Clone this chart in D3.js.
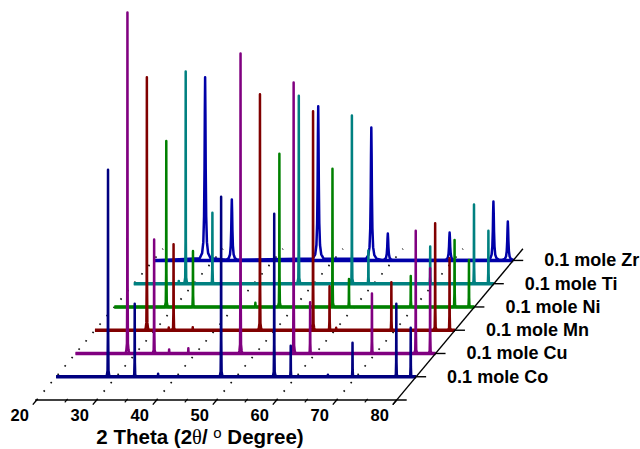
<!DOCTYPE html>
<html><head><meta charset="utf-8">
<script src="https://cdn.jsdelivr.net/npm/d3@7"></script>
<style>body{margin:0;background:#fff}</style>
</head><body>
<svg id="c" width="640" height="449"></svg>
<script>
// ---- data ----
const seriesNames = ["0.1 mole Co","0.1 mole Cu","0.1 mole Mn","0.1 mole Ni","0.1 mole Ti","0.1 mole Zr"];
const xTicks = [20,30,40,50,60,70,80];
const xMinorTicks = [25,35,45,55,65,75];
const coPos = [28.65, 33.1, 37.0, 47.5, 56.35, 59.1, 65.3, 69.4, 76.7, 79.1];
const coInt = [60.7, 21.4, 0.9, 52.8, 47.8, 9.1, 0.6, 10.0, 21.4, 14.4];
const cuPos = [28.65, 33.1, 35.6, 38.8, 47.5, 56.35, 59.1, 69.4, 76.7, 79.1];
const cuInt = [100, 33.4, 1.2, 1.5, 88, 79.5, 15.0, 17.6, 36.0, 25.0];
const mnPos = [28.65, 32.3, 33.1, 36.3, 47.5, 56.35, 59.1, 60.2, 69.4, 76.7, 79.1];
const mnInt = [74.2, 0.8, 25.2, 0.9, 69.2, 64.2, 12.9, 0.7, 14.1, 31.4, 21.1];
const niPos = [28.65, 33.1, 43.5, 47.5, 56.35, 59.1, 69.4, 76.7, 79.1];
const niInt = [48.7, 16.4, 1.2, 44.9, 40.5, 8.2, 9.1, 19.6, 13.8];
const tiPos = [27.5, 28.65, 33.1, 47.5, 56.35, 59.1, 69.4, 76.7, 79.1];
const tiInt = [0.8, 62.2, 20.8, 55.1, 49.3, 9.7, 10.9, 23.2, 15.5];
const zrPos = [28.65, 33.1, 47.5, 56.35, 59.1, 69.4, 76.7, 79.1];
const zrInt = [53.7, 17.9, 45.2, 39.0, 7.9, 8.2, 17.3, 11.4];

// ---- styles ----
const seriesColors = ["#000080","#800080","#800000","#008000","#008080","#0000a8"];
const narrowShape = [[0.3,0],[0.18,0.01],[0.08,0.03],[0.03,0.2]];
const broadShape = [[0.9,0.012],[0.5,0.04],[0.3,0.1],[0.18,0.24],[0.1,0.5],[0.05,0.8]];
const seriesShapes = [narrowShape,narrowShape,narrowShape,narrowShape,narrowShape,broadShape];

const series = [
  {pos: coPos, val: coInt}, {pos: cuPos, val: cuInt}, {pos: mnPos, val: mnInt},
  {pos: niPos, val: niInt}, {pos: tiPos, val: tiInt}, {pos: zrPos, val: zrInt}
];

const svg = d3.select("#c");
const font = "'Liberation Sans', Arial, Helvetica, sans-serif";
const x = d3.scaleLinear().domain([20,80]).range([36.7,396.7]);
const zx = d3.scaleLinear().domain([0,1]).range([0,19.42]);
const zy = d3.scaleLinear().domain([0,1]).range([0,-23.26]);
const yI = d3.scaleLinear().domain([0,100]).range([0,-341]);
const Y0 = 400;
const P = (t,z,i=0) => [x(t)+zx(z), Y0+zy(z)+yI(i)];

// grid (dotted, along depth)
xTicks.filter(t => t < 80).forEach(t => {
  const a = P(t,0), b = P(t,6.5);
  svg.append("line").attr("x1",a[0]).attr("y1",a[1]).attr("x2",b[0]).attr("y2",b[1])
    .attr("stroke","#111").attr("stroke-width",1.7).attr("stroke-dasharray","1.6,9.3");
});

// series, back to front
const line = d3.line();
for (let s = series.length-1; s >= 0; s--) {
  const z = s+1;
  const d = series[s];
  const shape = seriesShapes[s];
  const pts = [P(20,z,0)];
  d.pos.forEach((p,k) => {
    const h = d.val[k];
    for (let j=0;j<shape.length;j++) pts.push(P(p-shape[j][0], z, h*shape[j][1]));
    pts.push(P(p, z, h));
    for (let j=shape.length-1;j>=0;j--) pts.push(P(p+shape[j][0], z, h*shape[j][1]));
  });
  pts.push(P(80,z,0));
  const a = P(20,z), b = P(80,z);
  svg.append("line").attr("x1",a[0]).attr("y1",a[1]).attr("x2",b[0]).attr("y2",b[1])
    .attr("stroke",seriesColors[s]).attr("stroke-width",3.4);
  svg.append("path").attr("d",line(pts)).attr("fill","none")
    .attr("stroke",seriesColors[s]).attr("stroke-width",2.5).attr("stroke-linejoin","round");
}

// front axis
{
  const a = P(20,0), b = P(80,0);
  svg.append("line").attr("x1",a[0]-1.5).attr("y1",a[1]).attr("x2",b[0]+10).attr("y2",b[1])
    .attr("stroke","#000").attr("stroke-width",1.4);
}
xTicks.forEach(t => {
  const a = P(t,0), b = P(t,-0.2);
  svg.append("line").attr("x1",a[0]).attr("y1",a[1]).attr("x2",b[0]).attr("y2",b[1])
    .attr("stroke","#000").attr("stroke-width",1.4);
  svg.append("text").attr("x",x(t)-17).attr("y",421).attr("text-anchor","middle")
    .attr("font-family",font).attr("font-weight","bold").attr("font-size",16.5).text(t);
});
xMinorTicks.forEach(t => {
  const a = P(t,0.05), b = P(t,-0.1);
  svg.append("line").attr("x1",a[0]).attr("y1",a[1]).attr("x2",b[0]).attr("y2",b[1])
    .attr("stroke","#000").attr("stroke-width",1.2);
});

// depth axis
{
  const a = P(80,-0.2), b = P(80,6.5);
  svg.append("line").attr("x1",a[0]).attr("y1",a[1]).attr("x2",b[0]).attr("y2",b[1])
    .attr("stroke","#000").attr("stroke-width",1.4);
}
seriesNames.forEach((n,s) => {
  const z = s+1;
  const a = P(80,z);
  svg.append("line").attr("x1",a[0]).attr("y1",a[1]).attr("x2",a[0]+10).attr("y2",a[1])
    .attr("stroke","#000").attr("stroke-width",1.4);
  svg.append("text").attr("x",a[0]+31).attr("y",a[1]+6)
    .attr("font-family",font).attr("font-weight","bold").attr("font-size",18).text(n);
});

// axis title
{
  const t = svg.append("text").attr("x",200).attr("y",444).attr("text-anchor","middle")
    .attr("font-family",font).attr("font-weight","bold").attr("font-size",20.5);
  t.append("tspan").text("2 Theta (2");
  t.append("tspan").attr("font-weight","normal").attr("font-family","'Liberation Serif', serif").text("θ");
  t.append("tspan").text("/ ");
  t.append("tspan").attr("dy",-6).attr("font-size",15).attr("font-weight","normal").text("o");
  t.append("tspan").attr("dy",6).text(" Degree)");
}
</script>
</body></html>
